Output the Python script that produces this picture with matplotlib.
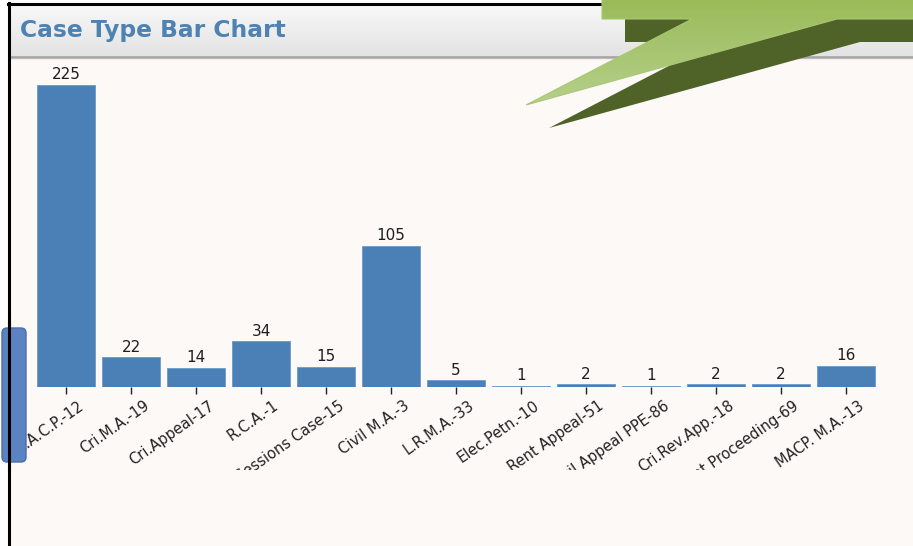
import matplotlib
matplotlib.use("Agg")
import matplotlib.pyplot as plt
import numpy as np
from matplotlib.patches import Polygon, FancyBboxPatch, Rectangle
from matplotlib.transforms import Bbox, TransformedBbox, ScaledTranslation
from matplotlib.colors import LinearSegmentedColormap

# chart data
case_types = ["M.A.C.P.-12", "Cri.M.A.-19", "Cri.Appeal-17", "R.C.A.-1",
              "Sessions Case-15", "Civil M.A.-3", "L.R.M.A.-33", "Elec.Petn.-10",
              "Rent Appeal-51", "Civil Appeal PPE-86", "Cri.Rev.App.-18",
              "Rent Proceeding-69", "MACP. M.A.-13"]
case_counts = [225, 22, 14, 34, 15, 105, 5, 1, 2, 1, 2, 2, 16]

title = "Case Type Bar Chart"
bar_color = "#4a80b6"
W, H = 913, 546

fig = plt.figure(figsize=(W / 100, H / 100), dpi=100)
fig.patch.set_facecolor("white")

# background layer in pixel coordinates (y down)
bg = fig.add_axes([0, 0, 1, 1], zorder=0)
bg.set_xlim(0, W)
bg.set_ylim(H, 0)
bg.axis("off")
bg.add_patch(Rectangle((10, 5), W, H, color="#fdf9f7", lw=0))
grad = np.linspace(0, 1, 64).reshape(-1, 1)
hdr_cmap = LinearSegmentedColormap.from_list("hdr", ["#f8f8f8", "#e3e3e3"])
bg.imshow(grad, cmap=hdr_cmap, extent=(10, W, 56, 5), aspect="auto", zorder=1)
bg.plot([10, W], [56.5, 56.5], color="#a6a6a6", lw=2, zorder=2)
bg.plot([10, W], [58.5, 58.5], color="#f4eef0", lw=1, zorder=2)
bg.plot([8, 620], [4, 4], color="black", lw=2.2, zorder=3)
bg.plot([9, 9], [3, H], color="black", lw=2.2, zorder=3)
bg.text(20, 30, title, fontsize=16.8, fontweight="bold", color="#4d82b2",
        ha="left", va="center", family="DejaVu Sans", zorder=3)

# the bar chart
ax = fig.add_axes([33.5 / W, 159 / H, 845 / W, 322.1 / H], zorder=1)
ax.patch.set_alpha(0)
x = np.arange(len(case_types))
bars = ax.bar(x, case_counts, width=0.9, color=bar_color,
              edgecolor="#6a9acb", linewidth=0.6)
ax.bar_label(bars, padding=2, fontsize=11, color="#1e1e1e")
ax.set_xlim(-0.5, len(case_types) - 0.5)
ax.set_ylim(0, 240)
ax.set_xticks(x)
ax.set_xticklabels(case_types, rotation=35, ha="right", va="top",
                   rotation_mode="anchor", fontsize=10.5, color="#222222")
ax.tick_params(axis="x", length=5, width=1, color="#222222", pad=3)
ax.yaxis.set_visible(False)
for s in ax.spines.values():
    s.set_visible(False)

# shift labels a little right and cut long ones at the bottom of the plot area
clip = TransformedBbox(Bbox([[0, (H - 470) / H], [1, 1]]), fig.transFigure)
shift = ScaledTranslation(12 / 100, 0, fig.dpi_scale_trans)
for lbl in ax.get_xticklabels():
    lbl.set_transform(lbl.get_transform() + shift)
    lbl.set_clip_on(True)
    lbl.set_clip_box(clip)

# overlay: side tab and green callout
top = fig.add_axes([0, 0, 1, 1], zorder=2)
top.set_xlim(0, W)
top.set_ylim(H, 0)
top.axis("off")
top.patch.set_alpha(0)
top.add_patch(FancyBboxPatch((2, 328), 24, 134, boxstyle="round,pad=0,rounding_size=5",
                             fc="#5b83c1", ec="#4a6fa8", lw=1))
top.plot([9, 9], [320, 470], color="black", lw=2.2)

shape = np.array([(602, -5), (W + 30, -5), (W + 30, 19), (837, 19), (526, 105),
                  (692, 19), (602, 19)])
shadow = Polygon(shape + 23, closed=True, fc="#4f6228", ec="none", zorder=1)
top.add_patch(shadow)
light = Polygon(shape, closed=True, fc="none", ec="#a9c874", lw=0.8, zorder=3)
top.add_patch(light)
g_cmap = LinearSegmentedColormap.from_list("grn", ["#9bbb59", "#b5d08b"])
img = top.imshow(grad, cmap=g_cmap, extent=(520, W, 105, 0), aspect="auto", zorder=2)
img.set_clip_path(light)

fig.savefig("out.png", dpi=100, facecolor=fig.get_facecolor())
